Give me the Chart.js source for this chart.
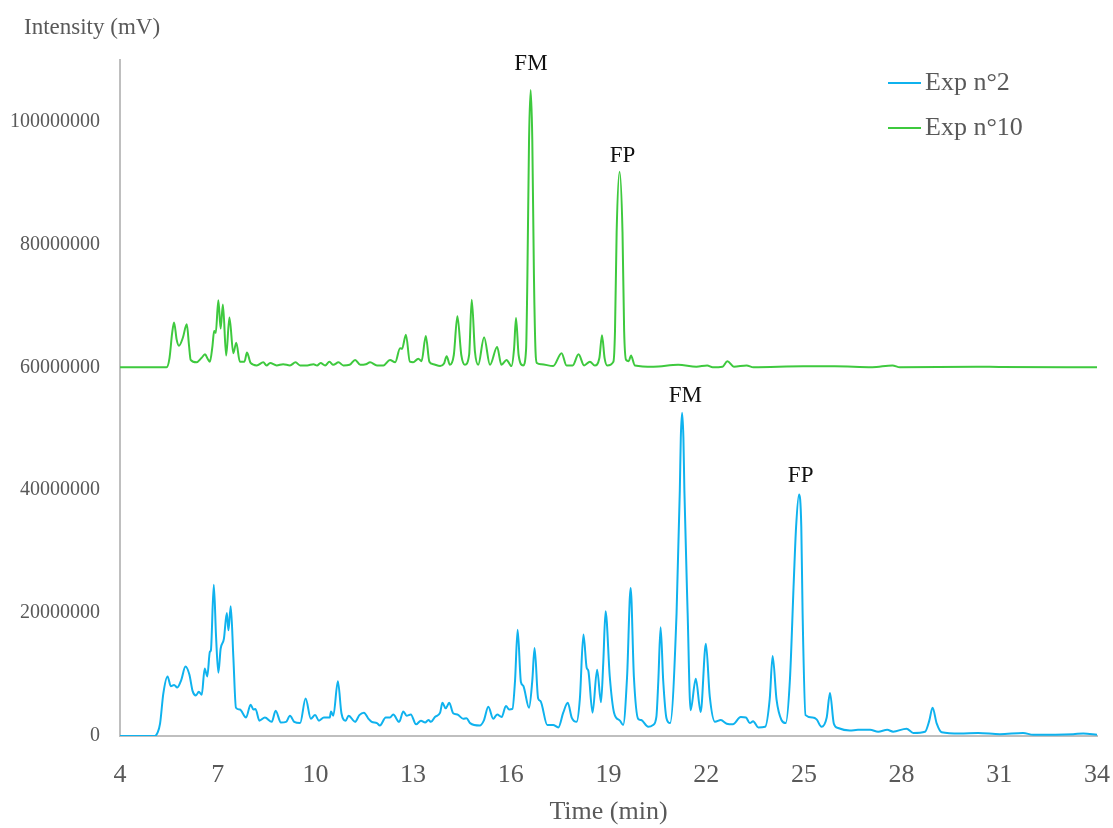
<!DOCTYPE html>
<html>
<head>
<meta charset="utf-8">
<script src="https://cdn.jsdelivr.net/npm/chart.js@4.4.1/dist/chart.umd.min.js"></script>
<style>
  html, body { margin: 0; background: #fff; }
</style>
</head>
<body>
<canvas id="chart" width="1113" height="828"></canvas>
<script>
// retention time (min) and intensity (millions of mV)
const blueTime = [4.0, 5.07, 5.15, 5.23, 5.33, 5.46, 5.56, 5.66, 5.76, 5.88, 6.01, 6.13, 6.23, 6.33, 6.42, 6.51, 6.60, 6.68, 6.76, 6.79, 6.88, 6.95, 7.02, 7.09, 7.19, 7.28, 7.33, 7.40, 7.48, 7.56, 7.68, 7.87, 8.01, 8.10, 8.16, 8.28, 8.45, 8.66, 8.78, 8.94, 9.10, 9.22, 9.35, 9.53, 9.70, 9.86, 9.99, 10.11, 10.26, 10.44, 10.48, 10.55, 10.69, 10.80, 10.93, 11.02, 11.22, 11.35, 11.49, 11.63, 11.73, 11.89, 11.98, 12.16, 12.29, 12.39, 12.57, 12.70, 12.80, 12.93, 13.09, 13.24, 13.37, 13.47, 13.55, 13.67, 13.83, 13.90, 14.00, 14.11, 14.23, 14.36, 14.54, 14.64, 14.75, 15.05, 15.17, 15.31, 15.46, 15.58, 15.72, 15.85, 15.95, 16.05, 16.13, 16.21, 16.31, 16.38, 16.56, 16.66, 16.73, 16.84, 16.91, 17.12, 17.30, 17.46, 17.61, 17.75, 17.87, 18.02, 18.12, 18.23, 18.33, 18.38, 18.51, 18.65, 18.77, 18.84, 18.91, 19.04, 19.17, 19.35, 19.45, 19.57, 19.68, 19.78, 19.91, 20.00, 20.22, 20.37, 20.47, 20.53, 20.60, 20.68, 20.78, 20.89, 21.09, 21.19, 21.22, 21.26, 21.30, 21.33, 21.43, 21.52, 21.68, 21.83, 21.99, 22.11, 22.27, 22.45, 22.63, 22.82, 23.06, 23.22, 23.34, 23.44, 23.60, 23.81, 23.95, 24.04, 24.16, 24.31, 24.44, 24.57, 24.69, 24.76, 24.85, 24.92, 24.96, 25.05, 25.27, 25.39, 25.54, 25.70, 25.80, 25.92, 26.05, 26.41, 26.66, 27.03, 27.28, 27.56, 27.74, 28.15, 28.36, 28.72, 28.85, 28.95, 29.08, 29.23, 29.79, 30.35, 31.02, 31.73, 32.04, 33.27, 33.58, 34.0];
const blueIntensity = [0, 0, 0.5, 2.0, 6.9, 9.7, 8.1, 8.3, 7.9, 9.1, 11.3, 10.0, 7.3, 6.6, 7.2, 6.7, 11.0, 9.7, 13.7, 13.9, 24.6, 16.1, 10.3, 14.2, 15.8, 20.0, 17.2, 21.1, 12.9, 4.6, 4.3, 3.0, 5.1, 4.3, 4.4, 2.5, 3.0, 2.3, 4.1, 2.2, 2.3, 3.3, 2.3, 2.1, 6.1, 2.8, 3.4, 2.5, 3.0, 3.0, 4.0, 3.3, 8.9, 3.7, 2.5, 3.3, 2.3, 3.4, 3.8, 2.8, 2.3, 2.1, 1.7, 3.0, 3.0, 3.5, 2.3, 4.0, 3.3, 3.5, 1.9, 2.5, 2.2, 2.6, 2.3, 3.1, 3.8, 5.4, 4.5, 5.4, 3.7, 3.5, 2.8, 2.9, 2.1, 1.7, 2.5, 4.75, 2.8, 3.5, 3.1, 4.9, 4.3, 4.4, 9.0, 17.3, 8.8, 8.2, 4.6, 9.0, 14.3, 6.1, 5.7, 1.8, 1.8, 1.4, 3.8, 5.4, 3.0, 2.3, 6.0, 16.5, 11.1, 10.6, 3.8, 10.8, 5.5, 12.0, 20.3, 9.6, 3.8, 2.5, 1.8, 9.6, 24.1, 9.6, 2.8, 2.6, 1.5, 1.8, 3.1, 9.0, 17.7, 9.0, 2.9, 2.1, 20.0, 40.0, 48.5, 52.6, 48.5, 40.0, 20.0, 4.2, 9.3, 3.9, 15.0, 6.4, 2.3, 2.6, 2.0, 1.9, 3.1, 3.0, 2.1, 2.4, 1.4, 1.5, 6.0, 13.0, 5.9, 2.6, 2.1, 9.1, 25.3, 34.0, 39.3, 34.0, 20.0, 3.4, 3.0, 2.7, 1.5, 3.0, 7.0, 2.0, 1.3, 0.9, 1.0, 1.0, 0.7, 1.0, 0.7, 1.2, 0.5, 0.7, 2.5, 4.6, 2.0, 0.6, 0.4, 0.5, 0.3, 0.5, 0.2, 0.3, 0.4, 0.2];

const greenTime = [4.0, 5.43, 5.52, 5.60, 5.66, 5.74, 5.81, 5.93, 6.05, 6.12, 6.17, 6.35, 6.50, 6.61, 6.70, 6.76, 6.84, 6.89, 6.94, 7.02, 7.09, 7.16, 7.26, 7.36, 7.48, 7.57, 7.68, 7.82, 7.90, 8.01, 8.20, 8.40, 8.50, 8.61, 8.81, 9.01, 9.22, 9.39, 9.53, 9.75, 9.94, 10.05, 10.16, 10.30, 10.43, 10.55, 10.71, 10.86, 11.05, 11.22, 11.38, 11.55, 11.68, 11.89, 12.09, 12.29, 12.45, 12.60, 12.66, 12.78, 12.90, 13.00, 13.16, 13.26, 13.39, 13.50, 13.62, 13.83, 13.95, 14.03, 14.13, 14.25, 14.36, 14.48, 14.59, 14.72, 14.80, 14.90, 15.00, 15.18, 15.36, 15.58, 15.71, 15.87, 16.02, 16.10, 16.16, 16.24, 16.38, 16.47, 16.51, 16.56, 16.61, 16.66, 16.71, 16.76, 16.80, 16.94, 17.30, 17.56, 17.71, 17.90, 18.08, 18.25, 18.43, 18.58, 18.72, 18.80, 18.88, 18.96, 19.15, 19.20, 19.25, 19.34, 19.43, 19.48, 19.54, 19.62, 19.69, 19.81, 20.38, 21.14, 21.70, 22.03, 22.20, 22.50, 22.65, 22.85, 23.24, 23.45, 24.98, 25.95, 27.10, 27.72, 27.95, 30.30, 31.00, 34.0];
const greenIntensity = [60.0, 60.0, 61.5, 65.5, 67.3, 64.5, 63.5, 64.8, 67.0, 63.5, 61.2, 60.8, 61.5, 62.1, 61.3, 60.9, 63.5, 65.9, 65.6, 70.9, 66.3, 70.2, 61.9, 68.1, 62.3, 64.0, 60.9, 60.9, 62.4, 60.7, 60.3, 60.8, 60.3, 60.7, 60.3, 60.5, 60.3, 60.8, 60.3, 60.3, 60.5, 60.3, 60.7, 60.3, 60.9, 60.4, 60.8, 60.3, 60.4, 61.2, 60.4, 60.5, 60.8, 60.3, 60.3, 61.2, 60.8, 63.1, 63.0, 65.3, 60.9, 60.8, 61.4, 61.0, 65.1, 60.9, 60.5, 60.2, 60.6, 61.8, 60.4, 62.0, 68.3, 62.0, 60.4, 62.0, 71.0, 62.5, 60.4, 64.9, 60.4, 63.3, 60.4, 61.2, 60.2, 63.0, 68.0, 62.0, 60.3, 63.0, 75.0, 97.0, 105.1, 97.0, 75.0, 62.5, 60.7, 60.5, 60.2, 62.3, 60.3, 60.3, 62.1, 60.3, 60.9, 60.3, 61.5, 65.2, 61.5, 60.3, 60.9, 66.0, 82.0, 91.8, 82.0, 66.0, 61.2, 61.0, 61.9, 60.3, 60.1, 60.4, 60.1, 60.3, 60.0, 60.1, 61.0, 60.1, 60.3, 60.0, 60.15, 60.15, 60.0, 60.3, 60.0, 60.1, 60.05, 60.0];

const seriesNames = ['Exp n°2', 'Exp n°10'];
const seriesColors = ['#0fb2ee', '#3ec93e'];

// peak annotations (text, time, intensity in millions)
const peakNames = ['FM', 'FP', 'FM', 'FP'];
const peakTimes = [16.62, 19.43, 21.36, 24.90];
const peakValues = [109.3, 94.4, 55.3, 42.3];

const xTickValues = [4, 7, 10, 13, 16, 19, 22, 25, 28, 31, 34];
const yTickValues = [0, 20000000, 40000000, 60000000, 80000000, 100000000];
const yMax = 110000000;

const serif = "'Liberation Serif', 'DejaVu Serif', serif";
const grey = '#595959';

function toPoints(times, values) {
  return times.map((t, i) => ({ x: t, y: values[i] * 1e6 }));
}

const extras = {
  id: 'extras',
  afterDraw(chart) {
    const { ctx, scales: { x, y } } = chart;
    ctx.save();
    ctx.textBaseline = 'middle';
    ctx.textAlign = 'left';
    ctx.fillStyle = grey;
    ctx.font = '23px ' + serif;
    ctx.fillText('Intensity (mV)', 24, 28);

    // legend in the top right corner
    chart.data.datasets.forEach((ds, i) => {
      const ly = 83 + i * 45;
      ctx.strokeStyle = ds.borderColor;
      ctx.lineWidth = 2;
      ctx.beginPath();
      ctx.moveTo(888, ly);
      ctx.lineTo(921, ly);
      ctx.stroke();
      ctx.fillStyle = grey;
      ctx.font = '26px ' + serif;
      ctx.fillText(ds.label, 925, ly);
    });

    // FM / FP labels above the peaks
    ctx.fillStyle = '#111';
    ctx.font = '23px ' + serif;
    ctx.textAlign = 'center';
    peakNames.forEach((name, i) => {
      ctx.fillText(name, x.getPixelForValue(peakTimes[i]), y.getPixelForValue(peakValues[i] * 1e6));
    });
    ctx.restore();
  }
};

new Chart(document.getElementById('chart').getContext('2d'), {
  type: 'line',
  data: {
    datasets: [
      {
        label: seriesNames[0],
        data: toPoints(blueTime, blueIntensity),
        borderColor: seriesColors[0],
        borderWidth: 2,
        pointRadius: 0,
        cubicInterpolationMode: 'monotone',
      },
      {
        label: seriesNames[1],
        data: toPoints(greenTime, greenIntensity),
        borderColor: seriesColors[1],
        borderWidth: 2,
        pointRadius: 0,
        cubicInterpolationMode: 'monotone',
      },
    ],
  },
  options: {
    responsive: false,
    animation: false,
    layout: { padding: { top: 60, right: 16, left: 0, bottom: 0 } },
    plugins: {
      legend: { display: false },
      tooltip: { enabled: false },
    },
    scales: {
      x: {
        type: 'linear',
        min: xTickValues[0],
        max: xTickValues[xTickValues.length - 1],
        afterBuildTicks: (scale) => { scale.ticks = xTickValues.map(v => ({ value: v })); },
        afterFit: (scale) => { scale.height = 92; scale.paddingLeft = 0; scale.paddingRight = 0; },
        grid: { drawOnChartArea: false, drawTicks: false },
        border: { color: '#bfbfbf', width: 2 },
        ticks: {
          padding: 24,
          color: grey,
          font: { family: serif, size: 26 },
        },
        title: {
          display: true,
          text: 'Time (min)',
          color: grey,
          font: { family: serif, size: 26 },
          padding: { top: 0, bottom: 0 },
        },
      },
      y: {
        min: 0,
        max: yMax,
        afterBuildTicks: (scale) => { scale.ticks = yTickValues.map(v => ({ value: v })); },
        afterFit: (scale) => { scale.width = 120; scale.paddingTop = 0; scale.paddingBottom = 0; },
        grid: { drawOnChartArea: false, drawTicks: false },
        border: { color: '#bfbfbf', width: 2 },
        ticks: {
          padding: 20,
          color: grey,
          font: { family: serif, size: 20 },
          callback: (v) => String(v),
        },
      },
    },
  },
  plugins: [extras],
});
</script>
</body>
</html>
